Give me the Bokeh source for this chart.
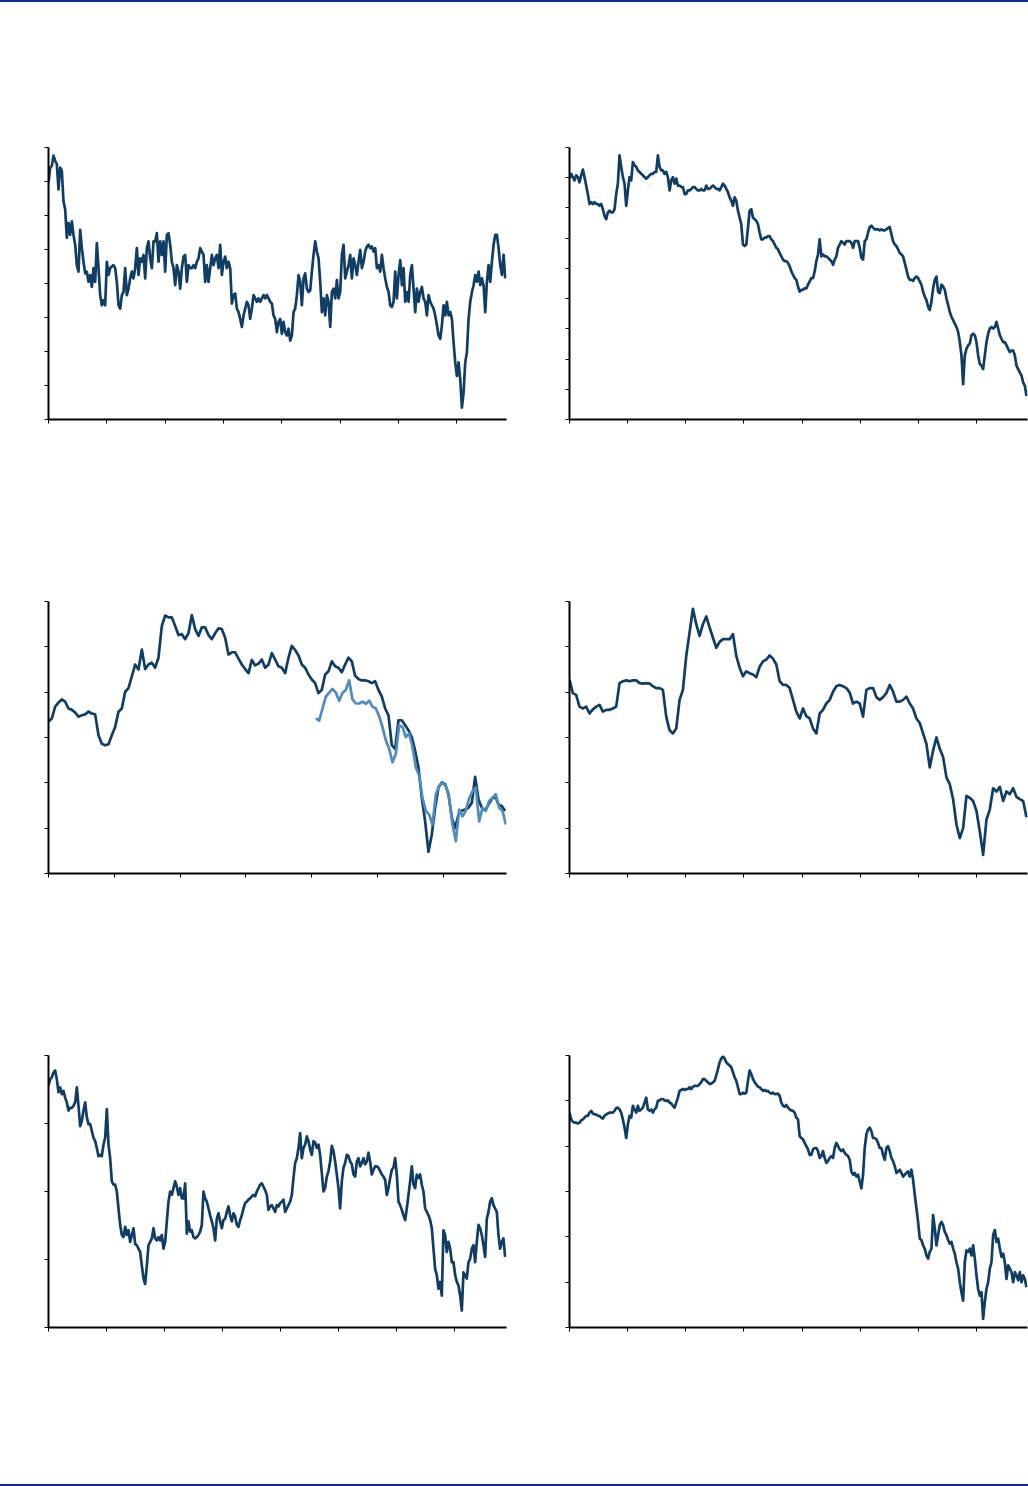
import numpy as np
from bokeh.plotting import figure
from bokeh.layouts import column, row
from bokeh.models import FixedTicker, Div, Spacer
from bokeh.embed import file_html
from bokeh.resources import INLINE

# ---------------- data (index levels, sampled at regular intervals) ----------------
# Panel 1 (top left): x from 0 to 7.85 (tick every 1), sample step 1/35
p1_step = 1 / 35
p1_vals = [
    69.7, 74.1, 74.6, 77.6, 76.1, 75.1, 67.7, 74.1, 73.1, 64.2, 61.8, 53.4, 57.8, 54.3, 58.3, 54.3,
    51.4, 45.4, 43.5, 55.8, 50.4, 46.4, 43.0, 43.5, 40.5, 42.5, 39.0, 44.5, 40.5, 51.9, 44.5, 36.6,
    33.6, 35.1, 33.6, 46.4, 42.5, 44.5, 45.0, 45.4, 44.5, 40.5, 33.6, 32.6, 36.6, 37.5, 44.5, 36.6,
    38.5, 41.5, 43.5, 41.5, 44.5, 50.4, 42.5, 47.4, 46.4, 48.4, 41.5, 50.4, 52.4, 47.4, 44.5, 52.4,
    52.4, 54.8, 46.4, 52.4, 48.4, 52.4, 43.5, 54.3, 54.8, 51.4, 46.4, 44.5, 39.5, 45.4, 43.5, 38.5,
    44.5, 47.9, 48.4, 40.5, 45.4, 44.5, 44.5, 45.4, 44.5, 46.4, 47.4, 50.4, 49.4, 48.4, 40.5, 45.4,
    40.5, 44.5, 48.4, 45.4, 47.4, 48.4, 44.5, 51.4, 42.5, 46.4, 47.9, 44.5, 46.4, 44.5, 34.1, 36.6,
    37.1, 32.6, 31.6, 29.6, 27.2, 30.6, 32.6, 34.6, 33.6, 29.6, 32.6, 36.6, 35.6, 34.6, 35.6, 34.6,
    35.6, 36.6, 35.6, 36.6, 35.6, 34.6, 34.1, 30.6, 29.6, 25.7, 28.7, 29.6, 25.2, 28.7, 25.7, 24.7,
    26.7, 23.2, 24.7, 31.6, 32.6, 36.6, 42.5, 40.5, 33.6, 41.5, 43.0, 38.5, 37.5, 38.0, 43.5, 48.4,
    52.4, 49.4, 47.4, 40.5, 31.6, 35.6, 30.6, 36.6, 34.6, 27.2, 37.5, 38.5, 35.6, 41.0, 35.6, 37.5,
    48.4, 51.4, 41.5, 43.5, 45.4, 48.4, 41.5, 47.4, 45.4, 42.5, 46.4, 49.9, 44.5, 46.4, 49.4, 50.9,
    51.4, 50.4, 50.9, 49.4, 50.4, 44.5, 45.4, 43.5, 48.4, 44.5, 41.5, 39.0, 37.5, 33.6, 33.1, 34.6,
    43.5, 35.6, 42.5, 46.9, 39.5, 44.5, 34.6, 37.5, 34.6, 42.5, 45.4, 38.5, 31.6, 38.5, 34.6, 37.5,
    39.0, 35.6, 34.6, 30.6, 36.6, 34.6, 33.6, 32.6, 30.6, 27.7, 24.7, 23.7, 27.7, 33.6, 30.6, 34.6,
    30.6, 31.6, 29.6, 22.7, 16.8, 12.8, 16.8, 11.9, 3.5, 7.9, 16.8, 19.8, 29.6, 34.6, 37.5, 39.5,
    42.5, 40.5, 43.5, 39.5, 41.5, 39.5, 31.6, 40.5, 45.4, 40.5, 46.4, 51.4, 54.3, 54.3, 50.4, 45.4,
    42.5, 48.4, 41.5,
]

# Panel 2 (top right): x from 0 to 7.88, y 0..90
p2_step = 5 / 174.3
p2_vals = [
    79.7, 81.3, 80.2, 79.1, 80.8, 80.2, 78.5, 80.8, 82.7, 80.2, 77.4, 74.6, 71.3, 71.9, 71.3, 71.9,
    71.3, 71.3, 70.7, 71.3, 69.6, 67.4, 66.3, 68.5, 69.1, 68.5, 68.5, 69.6, 74.6, 78.0, 87.4, 83.6,
    80.2, 78.0, 70.7, 75.8, 80.2, 79.1, 85.2, 84.1, 83.6, 82.4, 81.9, 81.3, 80.8, 80.2, 79.7, 80.2,
    80.8, 81.3, 81.3, 81.9, 81.9, 87.4, 83.6, 82.4, 82.4, 81.3, 81.9, 80.2, 75.8, 79.1, 80.2, 78.0,
    79.7, 77.4, 77.4, 76.9, 76.9, 74.6, 74.6, 75.8, 75.8, 76.3, 76.9, 76.9, 76.3, 75.8, 75.8, 76.3,
    75.8, 75.8, 77.4, 76.3, 76.3, 76.9, 77.4, 76.9, 76.3, 76.3, 75.8, 76.9, 78.0, 77.4, 76.3, 75.2,
    73.5, 72.4, 70.7, 73.5, 72.4, 69.1, 66.8, 64.6, 57.9, 57.4, 57.9, 63.5, 69.1, 69.6, 66.8, 66.3,
    65.7, 64.6, 61.8, 59.6, 59.6, 60.2, 60.2, 60.7, 60.7, 59.6, 59.0, 57.9, 56.8, 56.3, 55.1, 54.0,
    52.9, 52.4, 52.4, 51.8, 50.7, 49.0, 47.9, 46.8, 46.2, 44.0, 42.3, 42.9, 42.9, 43.4, 43.4, 44.6,
    45.7, 46.8, 46.8, 49.0, 52.4, 54.6, 59.6, 54.0, 54.6, 54.0, 54.0, 53.5, 52.9, 52.4, 51.2, 52.9,
    54.0, 56.8, 57.9, 59.0, 58.5, 57.9, 59.0, 59.0, 59.0, 58.5, 56.8, 59.0, 59.0, 59.0, 56.8, 53.5,
    52.9, 59.0, 59.6, 61.8, 63.7, 64.1, 63.5, 62.9, 62.9, 62.9, 62.6, 62.9, 62.6, 62.6, 62.9, 63.3,
    63.7, 61.3, 59.0, 57.9, 57.4, 56.3, 55.1, 54.6, 54.0, 51.8, 49.6, 47.3, 46.2, 46.2, 45.9, 46.8,
    47.3, 46.8, 45.7, 44.6, 42.3, 40.7, 39.5, 37.3, 36.2, 39.0, 43.4, 46.2, 47.3, 42.3, 41.8, 44.6,
    44.0, 42.9, 40.1, 37.9, 35.6, 34.0, 32.9, 31.7, 30.6, 29.0, 25.6, 21.2, 11.7, 21.2, 23.4, 24.5,
    25.1, 27.9, 28.4, 27.9, 25.6, 21.2, 18.4, 17.8, 16.7, 21.2, 25.6, 28.4, 30.1, 30.6, 30.1, 30.6,
    32.3, 30.1, 27.9, 26.7, 25.6, 25.6, 24.5, 23.4, 22.3, 22.8, 22.8, 21.2, 17.8, 16.7, 15.6, 14.5,
    12.3, 11.1, 7.8,
]

# Panel 3 (middle left): x from 0 to 6.96, y 0..60, two series
p3_step = 0.05068
p3_main = [
    33.5, 34.2, 36.8, 37.7, 38.4, 37.9, 36.4, 36.1, 35.5, 34.6, 34.9, 35.1, 35.7, 35.3, 35.1, 30.5,
    28.6, 28.3, 28.5, 30.5, 32.3, 35.7, 36.4, 40.1, 40.9, 43.5, 46.1, 45.0, 49.4, 45.1, 46.1, 46.5,
    45.4, 47.6, 54.6, 56.9, 56.5, 56.5, 54.6, 52.6, 52.8, 51.7, 53.0, 57.0, 53.9, 52.4, 54.3, 54.3,
    52.6, 51.7, 53.0, 54.1, 53.9, 52.0, 48.3, 48.8, 48.8, 47.4, 46.1, 45.1, 44.2, 47.1, 45.9, 46.3,
    47.2, 45.4, 46.1, 48.6, 47.2, 45.7, 45.4, 44.2, 47.6, 50.2, 49.3, 48.1, 46.1, 45.4, 43.9, 42.8,
    42.0, 39.8, 40.5, 43.9, 44.6, 46.8, 45.7, 45.4, 44.4, 46.1, 47.6, 46.8, 43.6, 42.9, 42.6, 42.6,
    42.4, 42.0, 42.4, 40.5, 39.0, 36.4, 34.9, 28.3, 27.5, 33.8, 33.8, 32.7, 31.6, 30.1, 27.1, 23.4,
    16.7, 11.5, 4.8, 8.6, 14.5, 19.0, 20.1, 19.7, 17.5, 12.3, 10.0, 13.0, 13.9, 14.1, 14.5, 15.6,
    21.3, 16.4, 14.5, 13.9, 15.2, 16.4, 17.1, 15.2, 14.9, 13.8,
]
p3_sub_start = 4.065
p3_sub = [
    34.2, 33.7, 36.4, 39.0, 39.9, 40.7, 39.9, 38.1, 39.8, 40.5, 42.6, 38.4, 37.5, 37.5, 37.9, 37.4,
    38.1, 36.8, 36.4, 34.7, 32.3, 29.4, 27.5, 24.5, 26.4, 32.7, 32.3, 30.1, 30.9, 27.9, 23.4, 21.6,
    16.7, 13.8, 13.0, 10.8, 17.5, 19.3, 20.1, 19.3, 16.7, 10.8, 7.1, 14.1, 12.6, 13.9, 16.6, 18.1,
    19.0, 11.5, 14.5, 13.8, 16.0, 16.7, 17.5, 14.5, 13.8, 10.8,
]

# Panel 4 (middle right): x from 0 to 7.88, y 0..60
p4_step = 0.05737
p4_vals = [
    42.8, 39.8, 39.4, 36.8, 36.4, 36.8, 35.3, 36.2, 36.8, 37.2, 35.7, 36.1, 36.1, 36.4, 36.8, 42.0,
    42.4, 42.6, 42.4, 42.6, 42.6, 42.0, 41.9, 42.0, 41.9, 41.3, 40.9, 40.9, 40.5, 34.6, 31.6, 30.9,
    32.0, 38.3, 40.5, 48.0, 53.2, 58.4, 55.0, 52.4, 55.0, 56.7, 54.3, 52.0, 49.8, 51.1, 51.7, 51.7,
    51.7, 52.8, 48.0, 45.4, 43.5, 44.6, 44.2, 43.9, 43.3, 45.6, 46.8, 47.2, 48.1, 47.4, 46.1, 42.4,
    41.6, 41.6, 40.9, 38.3, 35.7, 34.2, 36.4, 34.7, 34.2, 32.0, 30.9, 35.3, 36.1, 37.5, 38.3, 40.1,
    41.3, 41.6, 41.3, 40.9, 39.9, 37.5, 37.9, 37.5, 34.6, 40.5, 40.9, 40.9, 38.9, 38.3, 38.9, 39.8,
    41.6, 40.1, 37.9, 37.9, 38.3, 39.0, 37.5, 36.4, 34.2, 33.2, 30.9, 28.6, 23.4, 27.1, 30.0, 27.5,
    25.7, 21.2, 19.7, 16.4, 10.8, 7.8, 10.0, 17.1, 16.7, 16.0, 13.8, 9.3, 4.1, 11.9, 14.1, 18.8,
    18.1, 19.1, 16.0, 18.1, 17.5, 18.8, 16.9, 16.4, 16.0, 12.4,
]

# Panel 5 (bottom left): x from 0 to 7.9, y 0..40
p5_step = 5 / 174
p5_vals = [
    35.6, 36.5, 36.8, 37.5, 37.8, 36.5, 34.6, 35.3, 34.3, 34.8, 33.8, 33.1, 31.9, 32.3, 32.3, 32.6,
    33.1, 35.3, 32.6, 29.6, 30.4, 31.9, 33.1, 30.9, 29.9, 29.9, 28.9, 27.9, 27.4, 26.4, 25.2, 25.4,
    25.2, 26.9, 27.9, 32.1, 26.9, 24.9, 21.5, 21.0, 21.0, 20.0, 17.5, 15.1, 13.6, 13.3, 14.8, 13.6,
    14.3, 12.6, 13.6, 14.6, 12.3, 12.1, 11.6, 11.1, 9.1, 7.2, 6.4, 9.1, 12.1, 12.6, 13.1, 14.6,
    13.1, 12.8, 13.3, 12.8, 13.6, 11.6, 12.6, 15.6, 18.5, 20.0, 19.5, 20.5, 21.5, 20.7, 19.5, 20.5,
    19.0, 19.0, 21.2, 13.8, 15.6, 14.1, 14.3, 13.3, 13.1, 13.3, 13.6, 14.1, 15.1, 20.0, 19.0, 18.5,
    17.5, 16.5, 15.6, 14.6, 12.8, 16.0, 16.8, 15.6, 14.6, 15.8, 16.0, 17.0, 17.8, 16.5, 15.6, 16.8,
    16.3, 15.1, 14.8, 15.8, 16.5, 17.5, 18.3, 18.5, 18.8, 19.0, 19.3, 19.5, 19.3, 20.0, 20.5, 21.0,
    21.2, 20.7, 20.2, 19.5, 17.3, 17.8, 18.0, 17.5, 17.0, 18.0, 17.8, 18.3, 18.5, 18.8, 17.0, 17.5,
    18.0, 18.5, 19.5, 22.0, 24.2, 24.9, 26.4, 28.6, 24.9, 26.4, 26.9, 28.1, 27.4, 26.2, 25.4, 27.4,
    27.2, 26.4, 26.9, 25.4, 22.7, 20.0, 20.5, 22.2, 23.0, 24.4, 26.7, 25.9, 24.4, 22.5, 20.5, 17.5,
    21.5, 23.5, 24.2, 25.4, 25.2, 24.4, 24.0, 22.5, 22.2, 24.4, 24.9, 23.7, 24.2, 24.9, 24.0, 24.4,
    25.7, 24.4, 22.5, 23.2, 23.7, 23.7, 23.5, 23.0, 22.5, 22.2, 21.7, 19.5, 20.5, 22.0, 23.2, 23.5,
    24.9, 22.5, 18.5, 18.0, 17.3, 16.5, 15.8, 17.5, 19.5, 21.5, 23.7, 21.0, 20.5, 22.5, 22.0, 22.5,
    21.0, 20.0, 17.5, 17.0, 16.5, 15.8, 14.6, 11.6, 8.6, 7.7, 5.7, 6.7, 4.7, 14.3, 13.6, 11.1,
    12.6, 11.6, 9.6, 9.6, 7.7, 6.7, 6.2, 4.7, 2.5, 8.1, 7.7, 7.2, 9.6, 10.1, 11.6, 12.1,
    9.6, 12.6, 15.1, 14.6, 13.6, 12.1, 10.4, 16.0, 17.0, 18.5, 19.0, 18.0, 17.5, 17.0, 13.6, 11.6,
    12.6, 13.1, 10.4,
]

# Panel 6 (bottom right): x from 0 to 7.88, y 0..60
p6_step = 5 / 174.3
p6_vals = [
    47.4, 45.9, 45.4, 45.2, 45.2, 45.0, 45.2, 45.7, 45.9, 46.3, 46.7, 46.7, 47.4, 47.8, 47.2, 47.0,
    47.0, 46.7, 46.7, 46.3, 46.1, 46.7, 47.0, 47.2, 47.4, 47.4, 47.4, 47.8, 48.4, 48.5, 48.1, 47.4,
    45.9, 44.1, 41.8, 44.8, 46.7, 46.3, 48.9, 48.1, 47.4, 48.9, 47.8, 48.1, 48.5, 49.6, 50.7, 48.1,
    47.8, 48.1, 47.4, 48.1, 48.5, 50.0, 50.1, 50.4, 50.4, 50.1, 50.0, 50.1, 49.6, 49.4, 48.9, 48.5,
    49.6, 50.7, 52.2, 52.4, 52.6, 52.4, 52.6, 52.6, 53.0, 52.6, 53.1, 53.3, 53.3, 53.3, 53.7, 54.1,
    54.8, 54.8, 54.4, 54.1, 53.7, 53.8, 54.1, 54.4, 55.6, 57.0, 58.5, 59.3, 59.8, 59.3, 58.5, 58.1,
    57.8, 57.4, 56.3, 55.2, 54.4, 53.0, 51.5, 51.5, 51.8, 51.6, 51.8, 54.4, 56.7, 55.9, 54.8, 54.1,
    53.6, 53.1, 53.0, 52.6, 52.2, 52.4, 52.1, 52.2, 51.8, 51.6, 51.8, 51.5, 51.5, 51.6, 51.1, 49.6,
    48.9, 48.7, 49.1, 48.5, 48.1, 47.9, 47.8, 47.4, 46.3, 45.9, 42.2, 41.8, 41.5, 40.7, 40.0, 39.3,
    38.1, 38.1, 39.3, 39.6, 39.6, 38.9, 37.4, 37.8, 38.9, 37.4, 36.3, 36.7, 37.4, 37.8, 37.4, 39.6,
    40.7, 40.0, 39.3, 38.9, 39.3, 38.5, 38.1, 37.8, 37.0, 34.4, 33.7, 34.1, 33.3, 33.7, 32.2, 30.7,
    33.7, 39.6, 42.6, 43.7, 44.1, 43.3, 41.8, 41.8, 41.5, 40.7, 39.6, 39.6, 38.1, 37.0, 39.6, 40.0,
    38.9, 37.4, 36.7, 35.6, 34.1, 34.4, 34.8, 34.1, 33.3, 33.7, 34.1, 34.4, 33.3, 34.8, 32.6, 29.3,
    26.3, 23.3, 19.6, 19.3, 18.1, 17.4, 15.9, 15.2, 16.7, 17.4, 24.8, 21.9, 18.1, 20.4, 22.6, 23.3,
    22.6, 21.1, 20.4, 19.3, 18.5, 18.9, 17.4, 16.3, 14.4, 13.0, 10.0, 7.8, 5.9, 14.4, 17.0, 16.7,
    17.4, 15.9, 18.1, 15.2, 11.5, 8.5, 7.0, 7.8, 1.9, 5.6, 8.5, 10.0, 13.0, 14.4, 20.4, 21.5,
    18.9, 19.6, 17.4, 15.6, 16.3, 14.4, 10.7, 13.7, 13.0, 12.2, 10.0, 12.2, 11.5, 10.4, 12.2, 10.0,
    11.5, 10.7, 8.9,
]

# ---------------- styling ----------------
DARK = "#103d64"
LIGHT = "#4f8bbe"
RULE = "#0b2a92"
LINE_W = 2.7


def make_panel(left, x_end, y_end, y_tick_step, n_xticks, series):
    p = figure(
        width=516 if left else 512, height=454,
        x_range=(0, x_end), y_range=(0, y_end),
        output_backend="svg", toolbar_location=None,
        min_border_left=48 if left else 53,
        min_border_right=10 if left else 1,
        min_border_top=145, min_border_bottom=37,
    )
    p.outline_line_color = None
    p.grid.visible = False
    p.background_fill_color = "white"
    p.border_fill_color = "white"
    p.xaxis.ticker = FixedTicker(ticks=list(range(n_xticks)))
    p.yaxis.ticker = FixedTicker(ticks=list(np.arange(0, y_end + 0.01, y_tick_step)))
    for ax in (p.xaxis, p.yaxis):
        ax.axis_line_color = "black"
        ax.axis_line_width = 2
        ax.major_tick_line_color = "black"
        ax.major_tick_line_width = 1
        ax.major_tick_in = 0
        ax.major_tick_out = 4
        ax.minor_tick_line_color = None
        ax.major_label_text_color = None
        ax.major_label_text_font_size = "0px"
        ax.major_label_standoff = 0
    for start, step, vals, color in series:
        xs = start + np.arange(len(vals)) * step
        p.line(xs, vals, line_color=color, line_width=LINE_W, line_join="round")
    return p


p1 = make_panel(True, 7.85, 80, 10, 8, [(0, p1_step, p1_vals, DARK)])
p2 = make_panel(False, 7.877, 90, 10, 8, [(0, p2_step, p2_vals, DARK)])
p3 = make_panel(True, 6.964, 60, 10, 7, [(0, p3_step, p3_main, DARK),
                                         (p3_sub_start, p3_step, p3_sub, LIGHT)])
p4 = make_panel(False, 7.877, 60, 10, 8, [(0, p4_step, p4_vals, DARK)])
p5 = make_panel(True, 7.897, 40, 10, 8, [(0, p5_step, p5_vals, DARK)])
p6 = make_panel(False, 7.877, 60, 10, 8, [(0, p6_step, p6_vals, DARK)])

top_rule = Div(text="", width=1028, height=2, margin=0,
               styles={"background-color": RULE})
bottom_rule = Div(text="", width=1028, height=2, margin=0,
                  styles={"background-color": RULE})

layout = column(
    top_rule,
    row(p1, p2),
    row(p3, p4),
    row(p5, p6),
    Spacer(width=1028, height=120, margin=0),
    bottom_rule,
)

open("out.html", "w").write(file_html(layout, INLINE))
